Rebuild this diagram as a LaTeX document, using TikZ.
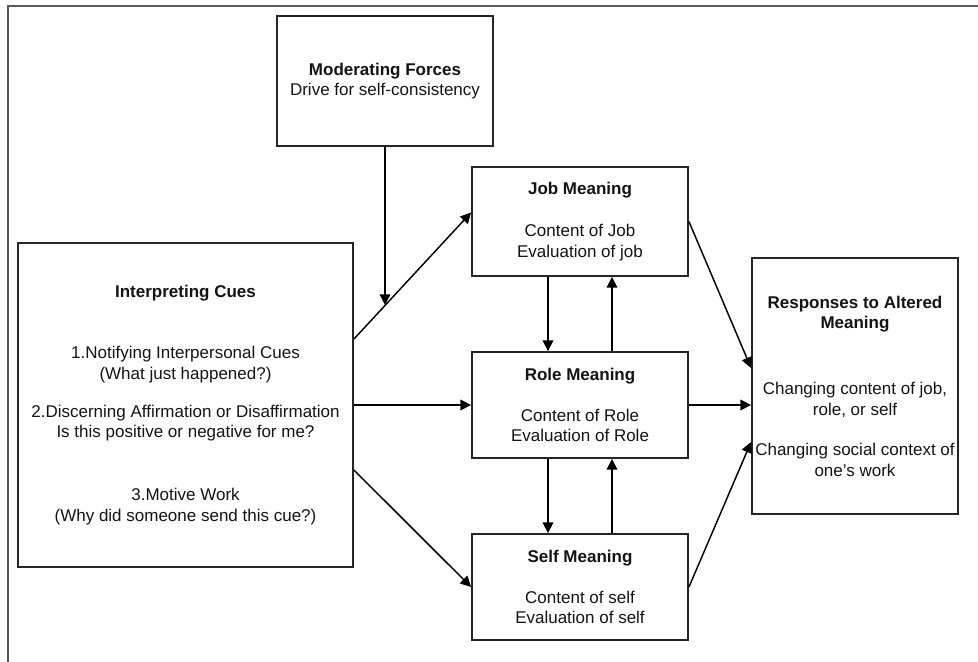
\documentclass[tikz,border=0pt]{standalone}
\usepackage{fontspec}
\setmainfont{Liberation Sans}
\usetikzlibrary{arrows.meta,calc}
\definecolor{framegray}{HTML}{5A5A5A}
\definecolor{boxline}{HTML}{262626}
\definecolor{inktext}{HTML}{141414}
\begin{document}
\begin{tikzpicture}[x=0.75pt,y=-0.75pt,
  box/.style={draw=boxline, line width=1.4pt, fill=white, align=center,
    inner sep=0pt, text=inktext, font=\fontsize{12.75}{15.4}\selectfont},
  arr/.style={draw=black, line width=1.1pt, -{Triangle[length=8pt,width=8pt]}}]
\useasboundingbox (0,0) rectangle (978,661);

% page frame
\draw[framegray, line width=1.8pt] (8,665) -- (8,6) -- (982,6);

% boxes
\node[box, minimum width=162pt, minimum height=97.5pt] (mod) at (385,81)
  {\textbf{Moderating Forces}\\Drive for self-consistency};
\node[box, minimum width=251.25pt, minimum height=243pt] (interp) at (185.5,405)
  {\textbf{Interpreting Cues}\\[30.4pt]1.Notifying Interpersonal Cues\\(What just happened?)\\[13pt]2.Discerning Affirmation or Disaffirmation\\Is this positive or negative for me?\\[32pt]3.Motive Work\\(Why did someone send this cue?)};
\node[box, minimum width=162pt, minimum height=81.75pt] (job) at (580,221.5)
  {\textbf{Job Meaning}\\[16pt]Content of Job\\Evaluation of job};
\node[box, minimum width=162pt, minimum height=79.5pt] (role) at (580,405)
  {\textbf{Role Meaning}\\[15.5pt]Content of Role\\Evaluation of Role};
\node[box, minimum width=162pt, minimum height=79.5pt] (self) at (580,587)
  {\textbf{Self Meaning}\\[15.5pt]Content of self\\Evaluation of self};
\node[box, minimum width=154.5pt, minimum height=192pt] (resp) at (855,386)
  {\textbf{Responses to Altered}\\\textbf{Meaning}\\[34pt]Changing content of job,\\role, or self\\[15pt]Changing social context of\\one's work};

% cues feed the three meanings
\draw[arr] ($(interp.east)+(0,-66)$) -- ($(job.west)+(0,-9)$);
\draw[arr] (interp.east) -- (role.west);
\draw[arr] ($(interp.east)+(0,65)$) -- (self.west);

% moderating forces act on the upper link
\path ($(interp.east)+(0,-66)$) -- ($(job.west)+(0,-9)$) coordinate[pos=0.269] (modhit);
\draw[arr] (mod.south) -- (mod.south |- modhit);

% links between the meanings
\draw[arr] ($(job.south)+(-32,0)$) -- ($(role.north)+(-32,0)$);
\draw[arr] ($(role.north)+(32,0)$) -- ($(job.south)+(32,0)$);
\draw[arr] ($(role.south)+(-32,0)$) -- ($(self.north)+(-32,0)$);
\draw[arr] ($(self.north)+(32,0)$) -- ($(role.south)+(32,0)$);

% meanings lead to responses
\draw[arr] (job.east) -- ($(resp.west)+(0,-18)$);
\draw[arr] (role.east) -- (role.east -| resp.west);
\draw[arr] (self.east) -- ($(resp.west)+(0,56)$);
\end{tikzpicture}
\end{document}
